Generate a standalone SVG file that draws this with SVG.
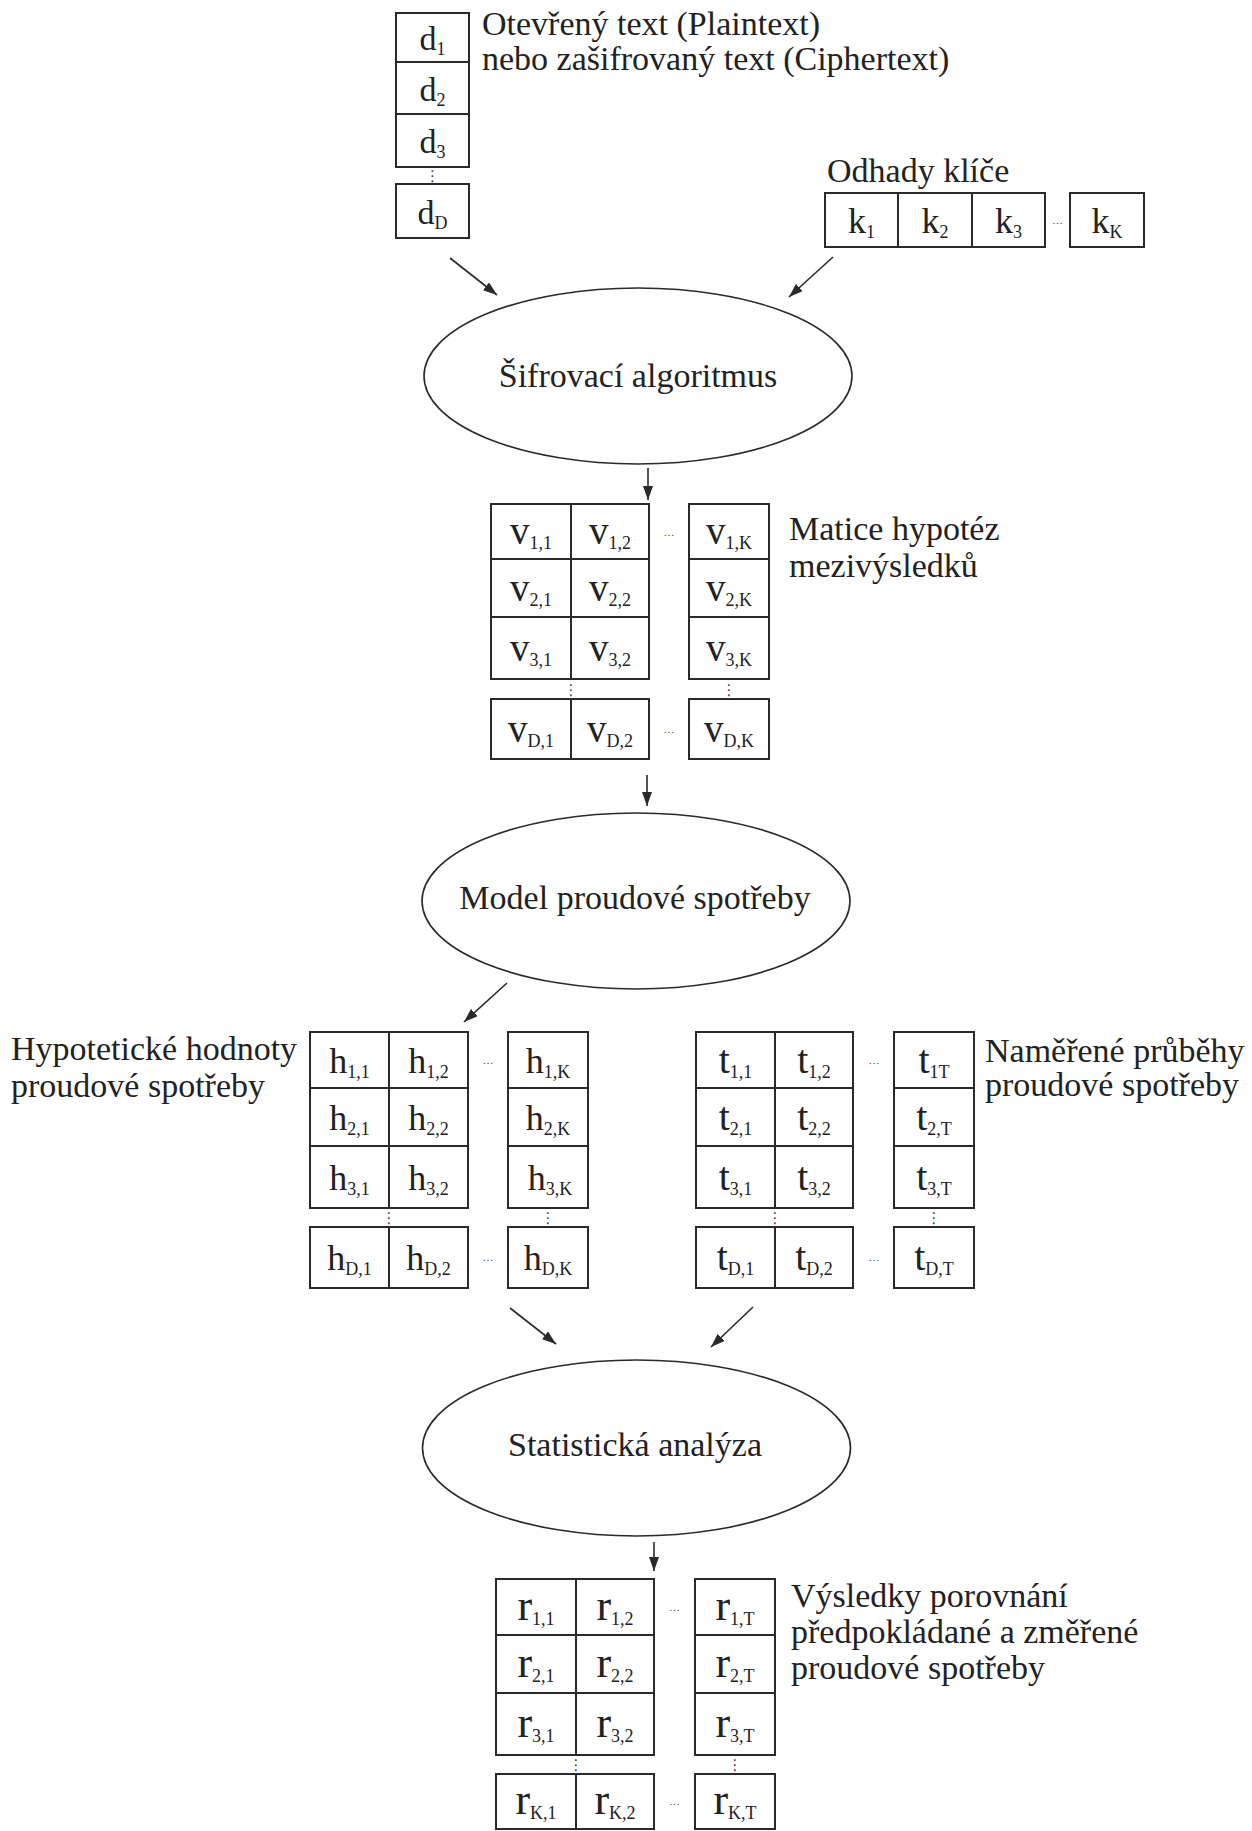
<svg xmlns="http://www.w3.org/2000/svg" width="1252" height="1831" viewBox="0 0 1252 1831">
<style>
  .lbl{font-family:"Liberation Serif","Times New Roman",serif;font-size:34px;fill:#222}
  .ctr{text-anchor:middle}
  .cell{fill:#fff;stroke:#2a2a2a;stroke-width:2}
  .ell{fill:#fff;stroke:#2a2a2a;stroke-width:1.6}
  .m{font-family:"Liberation Serif","Times New Roman",serif;fill:#222;text-anchor:middle}
  .s{font-size:18px}
  .d{font-size:34px}.k{font-size:36px}.v{font-size:39px}.h{font-size:36px}.t{font-size:40px}.r{font-size:44px}
  .hd{font-family:"Liberation Serif",serif;font-size:11px;fill:#444;text-anchor:middle}
  .vd{font-family:"DejaVu Sans",sans-serif;font-size:15px;fill:#444;text-anchor:middle}
  .arr{stroke:#2a2a2a;stroke-width:1.6;fill:none;marker-end:url(#ah)}
</style>
<defs>
  <marker id="ah" viewBox="0 0 14 10" refX="14" refY="5" markerWidth="14" markerHeight="10" markerUnits="userSpaceOnUse" orient="auto">
    <path d="M0,0 L14,5 L0,10 z" fill="#2a2a2a"/>
  </marker>
</defs>
<rect width="1252" height="1831" fill="#fff"/>

<g id="connectors">
  <line class="arr" x1="450" y1="258" x2="497" y2="295"/>
  <line class="arr" x1="833" y1="257" x2="789" y2="297"/>
  <line class="arr" x1="648" y1="468" x2="648" y2="500"/>
  <line class="arr" x1="647" y1="775" x2="647" y2="806"/>
  <line class="arr" x1="507" y1="983" x2="464" y2="1022"/>
  <line class="arr" x1="510" y1="1308" x2="556" y2="1344"/>
  <line class="arr" x1="753" y1="1307" x2="711" y2="1347"/>
  <line class="arr" x1="654" y1="1542" x2="654" y2="1571"/>
</g>

<g id="plaintext">
  <rect class="cell" x="396" y="13" width="73" height="49"/>
  <rect class="cell" x="396" y="62" width="73" height="52"/>
  <rect class="cell" x="396" y="114" width="73" height="53"/>
  <rect class="cell" x="396" y="184" width="73" height="54"/>
  <text class="m d" x="432.5" y="50">d<tspan class="s" dy="5">1</tspan></text>
  <text class="m d" x="432.5" y="101">d<tspan class="s" dy="5">2</tspan></text>
  <text class="m d" x="432.5" y="153">d<tspan class="s" dy="5">3</tspan></text>
  <text class="vd" x="432.5" y="181">⋮</text>
  <text class="m d" x="432.5" y="224">d<tspan class="s" dy="5">D</tspan></text>
  <text class="lbl" x="482" y="35">Otevřený text (Plaintext)</text>
  <text class="lbl" x="482" y="70">nebo zašifrovaný text (Ciphertext)</text>
</g>

<g id="keys">
  <text class="lbl" x="827" y="182">Odhady klíče</text>
  <rect class="cell" x="825" y="193" width="73" height="54"/>
  <rect class="cell" x="898" y="193" width="74" height="54"/>
  <rect class="cell" x="972" y="193" width="73" height="54"/>
  <rect class="cell" x="1070" y="193" width="74" height="54"/>
  <text class="m k" x="861.5" y="233">k<tspan class="s" dy="5">1</tspan></text>
  <text class="m k" x="935" y="233">k<tspan class="s" dy="5">2</tspan></text>
  <text class="m k" x="1008.5" y="233">k<tspan class="s" dy="5">3</tspan></text>
  <text class="hd" x="1057.5" y="224">…</text>
  <text class="m k" x="1107" y="233">k<tspan class="s" dy="5">K</tspan></text>
</g>

<g id="encryption">
  <ellipse class="ell" cx="638" cy="376" rx="214" ry="88"/>
  <text class="lbl ctr" x="638" y="387">Šifrovací algoritmus</text>
</g>

<g id="intermediate">
  <rect class="cell" x="491" y="504" width="80" height="55"/>
  <rect class="cell" x="571" y="504" width="78" height="55"/>
  <rect class="cell" x="689" y="504" width="80" height="55"/>
  <rect class="cell" x="491" y="559" width="80" height="58"/>
  <rect class="cell" x="571" y="559" width="78" height="58"/>
  <rect class="cell" x="689" y="559" width="80" height="58"/>
  <rect class="cell" x="491" y="617" width="80" height="62"/>
  <rect class="cell" x="571" y="617" width="78" height="62"/>
  <rect class="cell" x="689" y="617" width="80" height="62"/>
  <rect class="cell" x="491" y="699" width="80" height="60"/>
  <rect class="cell" x="571" y="699" width="78" height="60"/>
  <rect class="cell" x="689" y="699" width="80" height="60"/>
  <text class="m v" x="531" y="544">v<tspan class="s" dy="5">1,1</tspan></text>
  <text class="m v" x="610" y="544">v<tspan class="s" dy="5">1,2</tspan></text>
  <text class="m v" x="729" y="544">v<tspan class="s" dy="5">1,K</tspan></text>
  <text class="m v" x="531" y="601">v<tspan class="s" dy="5">2,1</tspan></text>
  <text class="m v" x="610" y="601">v<tspan class="s" dy="5">2,2</tspan></text>
  <text class="m v" x="729" y="601">v<tspan class="s" dy="5">2,K</tspan></text>
  <text class="m v" x="531" y="661">v<tspan class="s" dy="5">3,1</tspan></text>
  <text class="m v" x="610" y="661">v<tspan class="s" dy="5">3,2</tspan></text>
  <text class="m v" x="729" y="661">v<tspan class="s" dy="5">3,K</tspan></text>
  <text class="m v" x="531" y="742">v<tspan class="s" dy="5">D,1</tspan></text>
  <text class="m v" x="610" y="742">v<tspan class="s" dy="5">D,2</tspan></text>
  <text class="m v" x="729" y="742">v<tspan class="s" dy="5">D,K</tspan></text>
  <text class="hd" x="669" y="536">…</text>
  <text class="hd" x="669" y="733">…</text>
  <text class="vd" x="571" y="695">⋮</text>
  <text class="vd" x="729" y="695">⋮</text>
  <text class="lbl" x="789" y="540">Matice hypotéz</text>
  <text class="lbl" x="789" y="577">mezivýsledků</text>
</g>

<g id="power-model">
  <ellipse class="ell" cx="636" cy="901" rx="214" ry="88"/>
  <text class="lbl ctr" x="635" y="909">Model proudové spotřeby</text>
</g>

<g id="hypothetical">
  <text class="lbl" x="11" y="1060">Hypotetické hodnoty</text>
  <text class="lbl" x="11" y="1097">proudové spotřeby</text>
  <rect class="cell" x="310" y="1032" width="79" height="56"/>
  <rect class="cell" x="389" y="1032" width="79" height="56"/>
  <rect class="cell" x="508" y="1032" width="80" height="56"/>
  <rect class="cell" x="310" y="1088" width="79" height="58"/>
  <rect class="cell" x="389" y="1088" width="79" height="58"/>
  <rect class="cell" x="508" y="1088" width="80" height="58"/>
  <rect class="cell" x="310" y="1146" width="79" height="62"/>
  <rect class="cell" x="389" y="1146" width="79" height="62"/>
  <rect class="cell" x="508" y="1146" width="80" height="62"/>
  <rect class="cell" x="310" y="1227" width="79" height="61"/>
  <rect class="cell" x="389" y="1227" width="79" height="61"/>
  <rect class="cell" x="508" y="1227" width="80" height="61"/>
  <text class="m h" x="349.5" y="1073">h<tspan class="s" dy="5">1,1</tspan></text>
  <text class="m h" x="428.5" y="1073">h<tspan class="s" dy="5">1,2</tspan></text>
  <text class="m h" x="548" y="1073">h<tspan class="s" dy="5">1,K</tspan></text>
  <text class="m h" x="349.5" y="1130">h<tspan class="s" dy="5">2,1</tspan></text>
  <text class="m h" x="428.5" y="1130">h<tspan class="s" dy="5">2,2</tspan></text>
  <text class="m h" x="548" y="1130">h<tspan class="s" dy="5">2,K</tspan></text>
  <text class="m h" x="349.5" y="1190">h<tspan class="s" dy="5">3,1</tspan></text>
  <text class="m h" x="428.5" y="1190">h<tspan class="s" dy="5">3,2</tspan></text>
  <text class="m h" x="550" y="1190">h<tspan class="s" dy="5">3,K</tspan></text>
  <text class="m h" x="349.5" y="1270">h<tspan class="s" dy="5">D,1</tspan></text>
  <text class="m h" x="428.5" y="1270">h<tspan class="s" dy="5">D,2</tspan></text>
  <text class="m h" x="548" y="1270">h<tspan class="s" dy="5">D,K</tspan></text>
  <text class="hd" x="488" y="1064">…</text>
  <text class="hd" x="488" y="1261">…</text>
  <text class="vd" x="389" y="1223">⋮</text>
  <text class="vd" x="548" y="1223">⋮</text>
</g>

<g id="measured">
  <rect class="cell" x="696" y="1032" width="79" height="56"/>
  <rect class="cell" x="775" y="1032" width="78" height="56"/>
  <rect class="cell" x="894" y="1032" width="80" height="56"/>
  <rect class="cell" x="696" y="1088" width="79" height="58"/>
  <rect class="cell" x="775" y="1088" width="78" height="58"/>
  <rect class="cell" x="894" y="1088" width="80" height="58"/>
  <rect class="cell" x="696" y="1146" width="79" height="62"/>
  <rect class="cell" x="775" y="1146" width="78" height="62"/>
  <rect class="cell" x="894" y="1146" width="80" height="62"/>
  <rect class="cell" x="696" y="1227" width="79" height="61"/>
  <rect class="cell" x="775" y="1227" width="78" height="61"/>
  <rect class="cell" x="894" y="1227" width="80" height="61"/>
  <text class="m t" x="735.5" y="1073">t<tspan class="s" dy="5">1,1</tspan></text>
  <text class="m t" x="814" y="1073">t<tspan class="s" dy="5">1,2</tspan></text>
  <text class="m t" x="934" y="1073">t<tspan class="s" dy="5">1T</tspan></text>
  <text class="m t" x="735.5" y="1130">t<tspan class="s" dy="5">2,1</tspan></text>
  <text class="m t" x="814" y="1130">t<tspan class="s" dy="5">2,2</tspan></text>
  <text class="m t" x="934" y="1130">t<tspan class="s" dy="5">2,T</tspan></text>
  <text class="m t" x="735.5" y="1190">t<tspan class="s" dy="5">3,1</tspan></text>
  <text class="m t" x="814" y="1190">t<tspan class="s" dy="5">3,2</tspan></text>
  <text class="m t" x="934" y="1190">t<tspan class="s" dy="5">3,T</tspan></text>
  <text class="m t" x="735.5" y="1270">t<tspan class="s" dy="5">D,1</tspan></text>
  <text class="m t" x="814" y="1270">t<tspan class="s" dy="5">D,2</tspan></text>
  <text class="m t" x="934" y="1270">t<tspan class="s" dy="5">D,T</tspan></text>
  <text class="hd" x="874" y="1064">…</text>
  <text class="hd" x="874" y="1261">…</text>
  <text class="vd" x="775" y="1223">⋮</text>
  <text class="vd" x="934" y="1223">⋮</text>
  <text class="lbl" x="985" y="1062">Naměřené průběhy</text>
  <text class="lbl" x="985" y="1096">proudové spotřeby</text>
</g>

<g id="statistics">
  <ellipse class="ell" cx="636.5" cy="1448" rx="214" ry="88"/>
  <text class="lbl ctr" x="635" y="1456">Statistická analýza</text>
</g>

<g id="results">
  <rect class="cell" x="496" y="1579" width="80" height="56"/>
  <rect class="cell" x="576" y="1579" width="78" height="56"/>
  <rect class="cell" x="695" y="1579" width="80" height="56"/>
  <rect class="cell" x="496" y="1635" width="80" height="58"/>
  <rect class="cell" x="576" y="1635" width="78" height="58"/>
  <rect class="cell" x="695" y="1635" width="80" height="58"/>
  <rect class="cell" x="496" y="1693" width="80" height="62"/>
  <rect class="cell" x="576" y="1693" width="78" height="62"/>
  <rect class="cell" x="695" y="1693" width="80" height="62"/>
  <rect class="cell" x="496" y="1774" width="80" height="55"/>
  <rect class="cell" x="576" y="1774" width="78" height="55"/>
  <rect class="cell" x="695" y="1774" width="80" height="55"/>
  <text class="m r" x="536" y="1620">r<tspan class="s" dy="5">1,1</tspan></text>
  <text class="m r" x="615" y="1620">r<tspan class="s" dy="5">1,2</tspan></text>
  <text class="m r" x="735" y="1620">r<tspan class="s" dy="5">1,T</tspan></text>
  <text class="m r" x="536" y="1677">r<tspan class="s" dy="5">2,1</tspan></text>
  <text class="m r" x="615" y="1677">r<tspan class="s" dy="5">2,2</tspan></text>
  <text class="m r" x="735" y="1677">r<tspan class="s" dy="5">2,T</tspan></text>
  <text class="m r" x="536" y="1737">r<tspan class="s" dy="5">3,1</tspan></text>
  <text class="m r" x="615" y="1737">r<tspan class="s" dy="5">3,2</tspan></text>
  <text class="m r" x="735" y="1737">r<tspan class="s" dy="5">3,T</tspan></text>
  <text class="m r" x="536" y="1814">r<tspan class="s" dy="5">K,1</tspan></text>
  <text class="m r" x="615" y="1814">r<tspan class="s" dy="5">K,2</tspan></text>
  <text class="m r" x="735" y="1814">r<tspan class="s" dy="5">K,T</tspan></text>
  <text class="hd" x="674.5" y="1611">…</text>
  <text class="hd" x="674.5" y="1805">…</text>
  <text class="vd" x="576" y="1770">⋮</text>
  <text class="vd" x="735" y="1770">⋮</text>
  <text class="lbl" x="791" y="1607">Výsledky porovnání</text>
  <text class="lbl" x="791" y="1643">předpokládané a změřené</text>
  <text class="lbl" x="791" y="1679">proudové spotřeby</text>
</g>
</svg>
